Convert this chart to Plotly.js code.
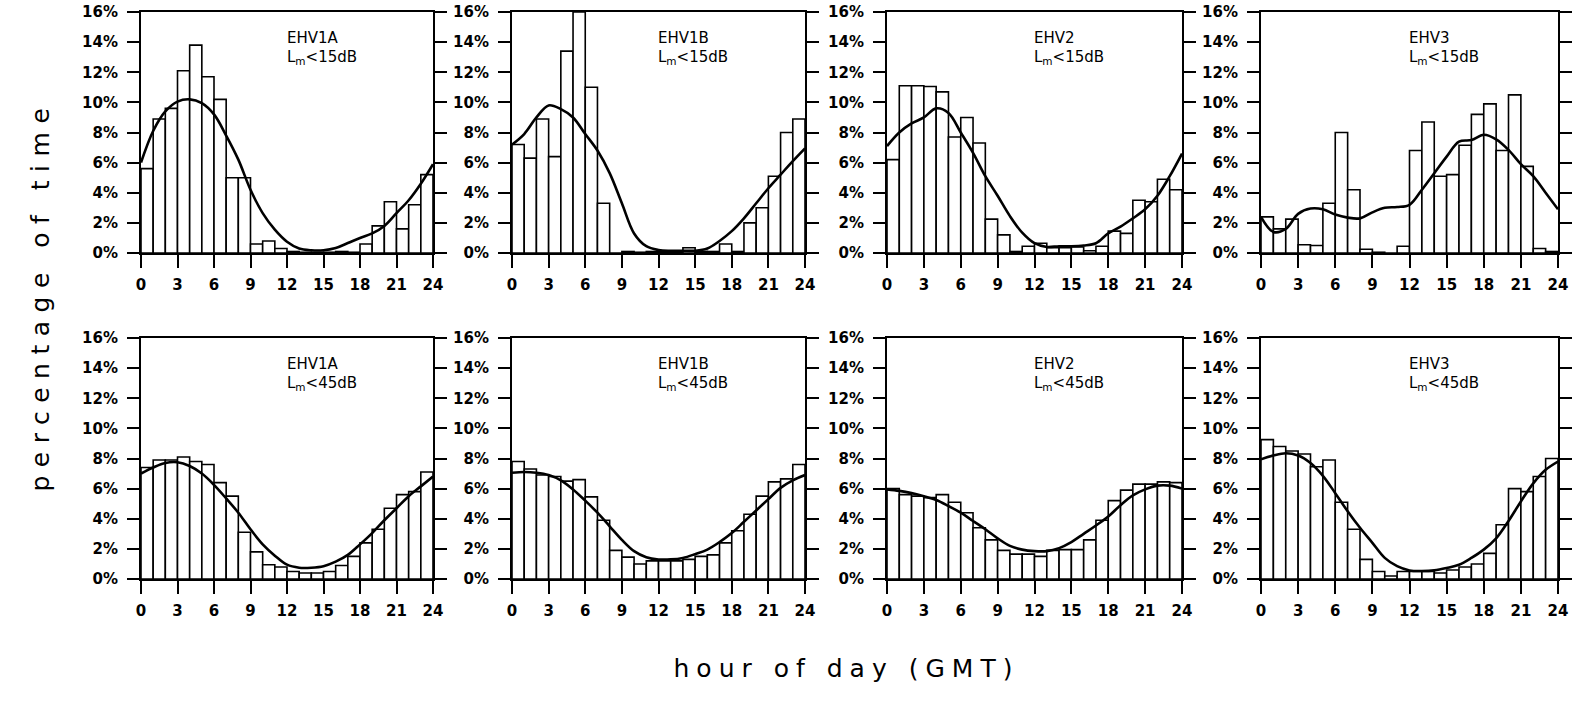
<!DOCTYPE html>
<html>
<head>
<meta charset="utf-8">
<script src="https://cdn.plot.ly/plotly-3.0.1.min.js"></script>
<style>html,body{margin:0;padding:0;background:#fff;}</style>
</head>
<body>
<div id="chart" style="width:1578px;height:728px;"></div>
<script>
// ---- data ----
const hours = [0,1,2,3,4,5,6,7,8,9,10,11,12,13,14,15,16,17,18,19,20,21,22,23];
const curveHours = [0,1,2,3,4,5,6,7,8,9,10,11,12,13,14,15,16,17,18,19,20,21,22,23,24];
const xTicks = [0,3,6,9,12,15,18,21,24];
const yTicks = [0,2,4,6,8,10,12,14,16];
const stations = ['EHV1A','EHV1B','EHV2','EHV3'];
const thresholds = ['15dB','45dB'];

// L_m < 15 dB (top row), percentage of time per hour
const bars15_EHV1A = [5.6,8.9,9.6,12.1,13.8,11.7,10.2,5.0,5.0,0.6,0.8,0.3,0.1,0.05,0.05,0.05,0.1,0.05,0.6,1.8,3.4,1.6,3.2,5.2];
const curve15_EHV1A = [6.0,8.1,9.4,10.05,10.2,9.95,9.2,7.8,6.2,4.2,2.65,1.55,0.75,0.3,0.18,0.18,0.33,0.66,1.0,1.3,1.8,2.65,3.5,4.6,5.9];
const bars15_EHV1B = [7.2,6.3,8.9,6.4,13.4,16.0,11.0,3.3,0.0,0.1,0.05,0.1,0.1,0.1,0.35,0.1,0.1,0.6,0.1,2.0,3.0,5.1,8.0,8.9];
const curve15_EHV1B = [7.2,7.9,9.0,9.8,9.55,9.0,7.9,6.8,5.3,3.3,1.3,0.45,0.2,0.15,0.15,0.15,0.3,0.8,1.45,2.3,3.3,4.3,5.2,6.1,6.95];
const bars15_EHV2 = [6.2,11.1,11.1,11.05,10.7,7.7,9.0,7.3,2.25,1.2,0.1,0.45,0.65,0.35,0.35,0.4,0.15,0.45,1.45,1.3,3.5,3.4,4.9,4.2];
const curve15_EHV2 = [7.1,8.0,8.6,9.0,9.6,9.3,8.0,6.65,5.1,3.8,2.45,1.35,0.65,0.4,0.45,0.45,0.5,0.65,1.3,1.75,2.3,2.9,3.8,5.1,6.6];
const bars15_EHV3 = [2.4,1.6,2.25,0.55,0.5,3.3,8.0,4.2,0.25,0.05,0.0,0.45,6.8,8.7,5.1,5.2,7.15,9.2,9.9,6.8,10.5,5.75,0.3,0.1];
const curve15_EHV3 = [2.4,1.4,1.6,2.6,2.95,2.9,2.55,2.35,2.3,2.7,3.0,3.05,3.2,4.2,5.3,6.4,7.4,7.5,7.85,7.55,6.85,5.9,5.1,4.0,2.9];

// L_m < 45 dB (bottom row)
const bars45_EHV1A = [7.4,7.9,7.9,8.1,7.8,7.6,6.4,5.5,3.1,1.8,0.95,0.8,0.5,0.4,0.4,0.5,0.9,1.5,2.4,3.3,4.7,5.6,5.8,7.1];
const curve45_EHV1A = [7.0,7.4,7.7,7.75,7.5,7.0,6.25,5.35,4.4,3.3,2.3,1.55,0.95,0.75,0.75,0.85,1.15,1.6,2.3,3.05,3.9,4.7,5.5,6.15,6.8];
const bars45_EHV1B = [7.8,7.3,6.9,6.8,6.5,6.6,5.45,3.9,1.9,1.45,1.0,1.2,1.2,1.2,1.3,1.5,1.6,2.4,3.2,4.3,5.5,6.45,6.65,7.6];
const curve45_EHV1B = [7.05,7.1,7.05,6.9,6.55,5.95,5.2,4.4,3.5,2.6,1.85,1.45,1.3,1.3,1.4,1.65,1.95,2.45,3.05,3.8,4.55,5.3,6.05,6.55,6.9];
const bars45_EHV2 = [6.0,5.6,5.5,5.4,5.6,5.1,4.4,3.4,2.6,1.9,1.65,1.65,1.5,1.9,1.95,1.95,2.6,3.9,5.2,5.9,6.3,6.3,6.45,6.4];
const curve45_EHV2 = [5.95,5.85,5.7,5.5,5.25,4.85,4.4,3.85,3.3,2.7,2.2,1.95,1.85,1.85,2.05,2.45,3.0,3.55,4.15,4.9,5.55,5.95,6.2,6.2,6.0];
const bars45_EHV3 = [9.25,8.8,8.5,8.3,7.45,7.9,5.1,3.3,1.3,0.5,0.2,0.5,0.5,0.5,0.4,0.6,0.8,1.0,1.7,3.6,6.0,5.8,6.8,8.0];
const curve45_EHV3 = [7.95,8.2,8.35,8.2,7.7,6.85,5.7,4.5,3.4,2.4,1.4,0.85,0.57,0.53,0.57,0.73,0.95,1.4,1.95,2.7,3.85,5.15,6.35,7.25,7.8];

const xTitle = 'hour of day (GMT)';
const yTitle = 'percentage of time';

// ---- build ----
const panels = [
  {bars: bars15_EHV1A, curve: curve15_EHV1A, st: 0, th: 0},
  {bars: bars15_EHV1B, curve: curve15_EHV1B, st: 1, th: 0},
  {bars: bars15_EHV2,  curve: curve15_EHV2,  st: 2, th: 0},
  {bars: bars15_EHV3,  curve: curve15_EHV3,  st: 3, th: 0},
  {bars: bars45_EHV1A, curve: curve45_EHV1A, st: 0, th: 1},
  {bars: bars45_EHV1B, curve: curve45_EHV1B, st: 1, th: 1},
  {bars: bars45_EHV2,  curve: curve45_EHV2,  st: 2, th: 1},
  {bars: bars45_EHV3,  curve: curve45_EHV3,  st: 3, th: 1}
];

const W = 1578, H = 728;
const colPx = [[141,433],[512,805],[887,1182],[1261,1558]];
const rowPx = [[12,253],[338,579]];

const tickFont = {family: 'DejaVu Sans, Liberation Sans, sans-serif', size: 15, color: '#000', weight: 'bold'};
const labelFont = {family: 'DejaVu Sans, Liberation Sans, sans-serif', size: 15, color: '#000'};
const traces = [];
const layout = {
  width: W, height: H,
  margin: {l:0, r:0, t:0, b:0, pad:0},
  paper_bgcolor: '#fff', plot_bgcolor: '#fff',
  showlegend: false,
  bargap: 0,
  annotations: []
};

panels.forEach((p, i) => {
  const n = i + 1;
  const xa = 'x' + (n === 1 ? '' : n);
  const ya = 'y' + (n === 1 ? '' : n);
  traces.push({
    type: 'bar', x: hours, y: p.bars, xaxis: xa, yaxis: ya,
    width: 1, offset: 0,
    marker: {color: '#fff', line: {color: '#000', width: 1.6}},
    hoverinfo: 'skip'
  });
  traces.push({
    type: 'scatter', mode: 'lines', x: curveHours, y: p.curve, xaxis: xa, yaxis: ya,
    line: {color: '#000', width: 2.6, shape: 'spline', smoothing: 1.0},
    hoverinfo: 'skip'
  });
  const col = colPx[p.st], row = rowPx[p.th];
  const xkey = 'xaxis' + (n === 1 ? '' : n);
  const ykey = 'yaxis' + (n === 1 ? '' : n);
  layout[xkey] = {
    domain: [col[0]/W, col[1]/W], anchor: ya,
    range: [0, 24], tickvals: xTicks, ticktext: xTicks.map(String),
    ticks: 'outside', ticklen: 13, tickwidth: 2, tickcolor: '#000',
    showline: true, linewidth: 2, linecolor: '#000', mirror: true,
    showgrid: false, zeroline: false, tickfont: tickFont, ticklabelstandoff: 4,
    fixedrange: true
  };
  layout[ykey] = {
    domain: [1 - row[1]/H, 1 - row[0]/H], anchor: xa,
    range: [0, 16], tickvals: yTicks, ticktext: yTicks.map(v => v + '%'),
    ticks: 'outside', ticklen: 12, tickwidth: 2, tickcolor: '#000',
    showline: true, linewidth: 2, linecolor: '#000', mirror: 'ticks',
    showgrid: false, zeroline: false, tickfont: tickFont, ticklabelstandoff: 6,
    fixedrange: true
  };
  layout.annotations.push({
    xref: xa, yref: ya, x: 11.8, y: 14.3, xanchor: 'left', yanchor: 'middle', align: 'left',
    showarrow: false, text: stations[p.st], font: labelFont
  });
  layout.annotations.push({
    xref: xa, yref: ya, x: 11.8, y: 12.95, xanchor: 'left', yanchor: 'middle', align: 'left',
    showarrow: false, text: 'L<sub>m</sub>&lt;' + thresholds[p.th], font: labelFont
  });
});

layout.annotations.push({
  xref: 'paper', yref: 'paper', x: 40/W, y: 1 - 296/H, xanchor: 'center', yanchor: 'middle',
  textangle: -90, showarrow: false, text: yTitle,
  font: {family: 'DejaVu Sans, Liberation Sans, sans-serif', size: 25, color: '#000'}
});
layout.annotations.push({
  xref: 'paper', yref: 'paper', x: 846/W, y: 1 - 668/H, xanchor: 'center', yanchor: 'middle',
  showarrow: false, text: xTitle,
  font: {family: 'DejaVu Sans, Liberation Sans, sans-serif', size: 25, color: '#000'}
});

Plotly.newPlot('chart', traces, layout, {staticPlot: true, displayModeBar: false}).then(() => {
  document.querySelectorAll('.annotation-text').forEach(t => {
    if (t.textContent === xTitle) t.style.letterSpacing = '7px';
    if (t.textContent === yTitle) t.style.letterSpacing = '8.5px';
  });
  // drop empty placeholder text nodes (unused axis titles)
  document.querySelectorAll('#chart svg text').forEach(t => {
    if (!t.textContent || !t.textContent.trim()) t.remove();
  });
});
</script>
</body>
</html>
